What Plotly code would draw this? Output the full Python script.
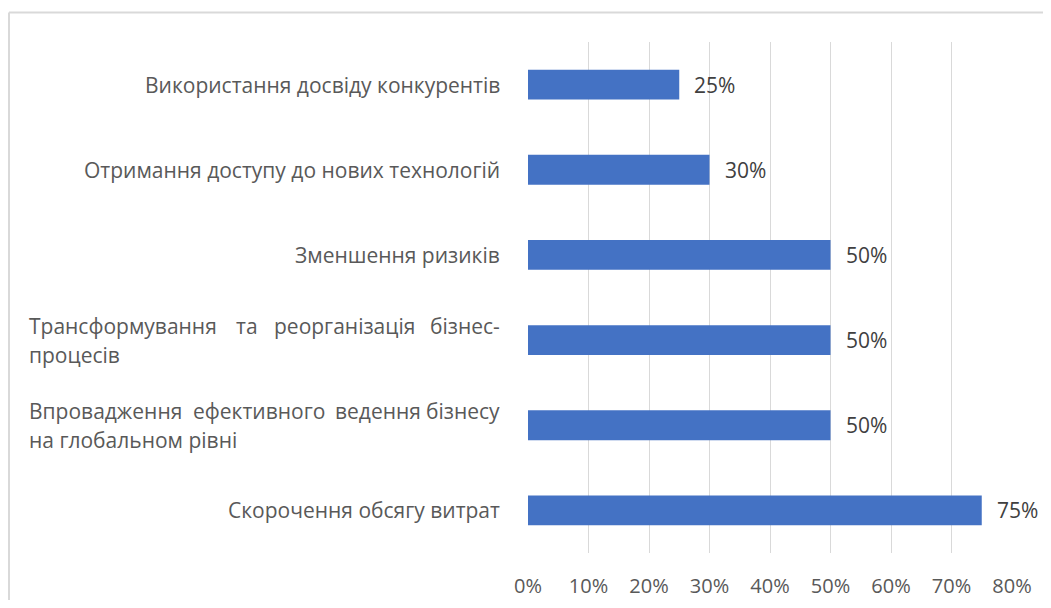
import plotly.graph_objects as go

# ---------------- data ----------------
categories = [
    "Використання досвіду конкурентів",
    "Отримання доступу до нових технологій",
    "Зменшення ризиків",
    "Трансформування та реорганізація бізнес-процесів",
    "Впровадження ефективного ведення бізнесу на глобальном рівні",
    "Скорочення обсягу витрат",
]
values = [0.25, 0.30, 0.50, 0.50, 0.50, 0.75]
label_lines = [
    ["Використання досвіду конкурентів"],
    ["Отримання доступу до нових технологій"],
    ["Зменшення ризиків"],
    ["Трансформування та реорганізація бізнес-", "процесів"],
    ["Впровадження ефективного ведення бізнесу", "на глобальном рівні"],
    ["Скорочення обсягу витрат"],
]
tick_vals = [0, 0.1, 0.2, 0.3, 0.4, 0.5, 0.6, 0.7, 0.8]
tick_text = ["0%", "10%", "20%", "30%", "40%", "50%", "60%", "70%", "80%"]

# ---------------- style ----------------
# the page body has an 8px default margin, so the figure is sized to fit inside it
W, H = 1035, 592
ML, MR, MT, MB = 520, 31, 34, 47
FONT = "Open Sans"
FS = 21
TICK_FS = 20
LABEL_COLOR = "#595959"
BAR_COLOR = "#4472C4"
LEFT_PX = 19      # left edge of label block (figure px)
RIGHT_PX = 494    # right edge of label block (figure px)
LINE_GAP = 29

# approximate Open Sans advance widths (em) for justification
_w = {
    'а': .556, 'б': .60, 'в': .57, 'г': .46, 'ґ': .46, 'д': .60, 'е': .56, 'є': .50,
    'ж': .85, 'з': .48, 'и': .64, 'і': .26, 'ї': .26, 'й': .64, 'к': .55, 'л': .60,
    'м': .76, 'н': .63, 'о': .60, 'п': .63, 'р': .61, 'с': .48, 'т': .47, 'у': .50,
    'ф': .80, 'х': .52, 'ц': .64, 'ч': .60, 'ш': .90, 'щ': .92, 'ь': .56, 'ю': .87,
    'я': .57, '-': .32,
}


def word_width(word):
    total = 0.0
    for ch in word:
        if ch.isupper():
            total += 0.68
        else:
            total += _w.get(ch, 0.58)
    return total * FS


def label_ann(cat, text, anchor, px, yshift):
    return dict(
        x=0, xref="paper", y=cat, yref="y", text=text, showarrow=False,
        xanchor=anchor, yanchor="middle", xshift=px - ML, yshift=yshift,
        font=dict(family=FONT, size=FS, color=LABEL_COLOR),
    )


fig = go.Figure()
fig.add_trace(go.Bar(
    x=values, y=categories, orientation="h",
    marker=dict(color=BAR_COLOR, line=dict(width=0)),
    hoverinfo="skip",
))

annotations = []
# category labels
for cat, lines in zip(categories, label_lines):
    n = len(lines)
    for i, line in enumerate(lines):
        yshift = (-(i - (n - 1) / 2)) * LINE_GAP
        if n == 1:
            annotations.append(label_ann(cat, line, "right", RIGHT_PX, yshift))
        elif i < n - 1:
            # justified line: first word at left edge, last at right edge
            words = line.split(" ")
            widths = [word_width(w) for w in words]
            gap = (RIGHT_PX - LEFT_PX - sum(widths)) / (len(words) - 1)
            pos = LEFT_PX
            for j, (wd, ww) in enumerate(zip(words, widths)):
                if j == len(words) - 1:
                    annotations.append(label_ann(cat, wd, "right", RIGHT_PX, yshift))
                elif j == 0:
                    annotations.append(label_ann(cat, wd, "left", pos, yshift))
                else:
                    annotations.append(label_ann(cat, wd, "center", pos + ww / 2, yshift))
                pos += ww + gap
        else:
            annotations.append(label_ann(cat, line, "left", LEFT_PX, yshift))

# value labels
for cat, v in zip(categories, values):
    annotations.append(dict(
        x=v, xref="x", y=cat, yref="y", text=f"{round(v * 100)}%", showarrow=False,
        xanchor="left", yanchor="middle", xshift=13,
        font=dict(family=FONT, size=FS, color="#404040"),
    ))

pw = W - ML - MR
ph = H - MT - MB
# chart border (top and left edges visible)
x_left = (1 - ML) / pw
x_right = (W + 40 - ML) / pw
y_top = 1 + (MT - 4.5) / ph
y_bottom = -(MB + 40) / ph
frame_line = dict(color="#D9D9D9", width=2)
shapes = [
    dict(type="line", xref="paper", yref="paper", x0=x_left, x1=x_right,
         y0=y_top, y1=y_top, line=frame_line, layer="below"),
    dict(type="line", xref="paper", yref="paper", x0=x_left, x1=x_left,
         y0=y_bottom, y1=y_top, line=frame_line, layer="below"),
]

fig.update_layout(
    width=W, height=H,
    margin=dict(l=ML, r=MR, t=MT, b=MB, pad=0, autoexpand=False),
    paper_bgcolor="white", plot_bgcolor="white",
    showlegend=False,
    bargap=0.65,
    annotations=annotations,
    shapes=shapes,
    xaxis=dict(
        range=[0, 0.8], tickvals=tick_vals, ticktext=tick_text,
        showgrid=True, gridcolor="#D9D9D9", gridwidth=1,
        zeroline=False, showline=False, ticks="",
        tickfont=dict(family=FONT, size=TICK_FS, color=LABEL_COLOR),
        ticklabelstandoff=19, automargin=False,
    ),
    yaxis=dict(
        autorange="reversed", showticklabels=False, showgrid=False,
        zeroline=False, showline=False, ticks="", automargin=False,
    ),
)

fig.write_html("out.html")
